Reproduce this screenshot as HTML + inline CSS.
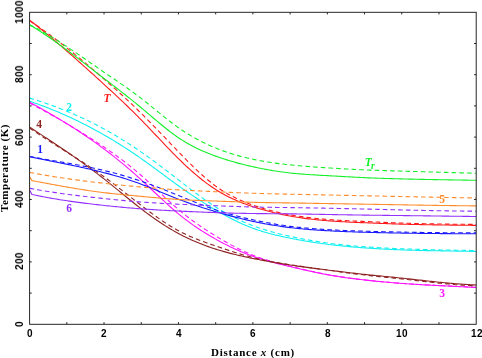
<!DOCTYPE html><html><head><meta charset="utf-8"><title>Temperature vs distance</title><style>
html,body{margin:0;padding:0;background:#fff}
body{width:482px;height:358px;position:relative;overflow:hidden;font-family:"Liberation Sans",sans-serif}
.xt,.xl,.yt span,.yl span,.lb{will-change:transform}
.xt{position:absolute;top:327.7px;width:40px;margin-left:-19.6px;text-align:center;letter-spacing:0.5px;font:bold 10px/12px "Liberation Sans",sans-serif;color:#000}
.yt{position:absolute;left:14px;width:12px;height:40px;margin-top:-20.5px;color:#000}
.yt span{position:absolute;left:50%;top:50%;transform:translate(-50%,-50%) rotate(-90deg);white-space:nowrap;letter-spacing:0.35px;font:bold 10px/12px "Liberation Sans",sans-serif}
.xl{position:absolute;left:153px;width:200px;top:345.5px;text-align:center;font:bold 11px/12px "Liberation Serif",serif;letter-spacing:0.75px;color:#000;white-space:nowrap}
.yl{position:absolute;left:0px;top:168px;width:12px;height:0}
.yl span{position:absolute;left:4px;top:0;transform:translate(-50%,-50%) rotate(-90deg);white-space:nowrap;font:bold 11px/12px "Liberation Serif",serif;letter-spacing:0.55px;color:#000}
.lb{position:absolute;font:bold 11.5px/12px "Liberation Serif",serif;transform:translate(-50%,-50%);white-space:nowrap}
.it{font:italic bold 11.5px/12px "Liberation Serif",serif}

</style></head><body>
<svg width="482" height="358" viewBox="0 0 482 358" style="position:absolute;left:0;top:0">
<defs><clipPath id="cp"><rect x="29.60" y="12.30" width="446.60" height="312.00"/></clipPath></defs>
<g clip-path="url(#cp)" fill="none" stroke-width="1.1" stroke-linejoin="round">
<path d="M29.60 20.10 L31.46 21.56 L33.32 23.03 L35.18 24.51 L37.04 26.00 L38.90 27.50 L40.77 29.01 L42.63 30.53 L44.49 32.06 L46.35 33.59 L48.21 35.14 L50.07 36.69 L51.93 38.25 L53.79 39.82 L55.65 41.39 L57.51 42.97 L59.37 44.56 L61.23 46.16 L63.09 47.76 L64.96 49.37 L66.82 50.99 L68.68 52.61 L70.54 54.24 L72.40 55.87 L74.26 57.51 L76.12 59.16 L77.98 60.81 L79.84 62.47 L81.70 64.13 L83.56 65.79 L85.42 67.46 L87.29 69.14 L89.15 70.82 L91.01 72.50 L92.87 74.19 L94.73 75.88 L96.59 77.57 L98.45 79.27 L100.31 80.96 L102.17 82.67 L104.03 84.37 L105.89 86.08 L107.75 87.79 L109.62 89.50 L111.48 91.22 L113.34 92.95 L115.20 94.68 L117.06 96.42 L118.92 98.16 L120.78 99.91 L122.64 101.67 L124.50 103.45 L126.36 105.23 L128.22 107.02 L130.09 108.82 L131.95 110.64 L133.81 112.47 L135.67 114.32 L137.53 116.18 L139.39 118.05 L141.25 119.94 L143.11 121.85 L144.97 123.77 L146.83 125.70 L148.69 127.65 L150.55 129.60 L152.41 131.56 L154.28 133.53 L156.14 135.50 L158.00 137.47 L159.86 139.44 L161.72 141.40 L163.58 143.36 L165.44 145.32 L167.30 147.26 L169.16 149.20 L171.02 151.12 L172.88 153.02 L174.75 154.91 L176.61 156.78 L178.47 158.63 L180.33 160.45 L182.19 162.25 L184.05 164.03 L185.91 165.78 L187.77 167.51 L189.63 169.20 L191.49 170.87 L193.35 172.51 L195.21 174.12 L197.07 175.69 L198.94 177.24 L200.80 178.75 L202.66 180.22 L204.52 181.66 L206.38 183.07 L208.24 184.43 L210.10 185.76 L211.96 187.06 L213.82 188.31 L215.68 189.52 L217.54 190.68 L219.40 191.81 L221.27 192.90 L223.13 193.95 L224.99 194.97 L226.85 195.95 L228.71 196.89 L230.57 197.80 L232.43 198.69 L234.29 199.54 L236.15 200.36 L238.01 201.15 L239.87 201.92 L241.73 202.67 L243.60 203.39 L245.46 204.08 L247.32 204.76 L249.18 205.42 L251.04 206.05 L252.90 206.68 L254.76 207.28 L256.62 207.87 L258.48 208.45 L260.34 209.00 L262.20 209.55 L264.06 210.08 L265.93 210.59 L267.79 211.09 L269.65 211.58 L271.51 212.05 L273.37 212.51 L275.23 212.95 L277.09 213.38 L278.95 213.80 L280.81 214.20 L282.67 214.59 L284.53 214.97 L286.40 215.34 L288.26 215.69 L290.12 216.04 L291.98 216.37 L293.84 216.69 L295.70 216.99 L297.56 217.29 L299.42 217.57 L301.28 217.85 L303.14 218.11 L305.00 218.37 L306.86 218.61 L308.72 218.85 L310.59 219.07 L312.45 219.29 L314.31 219.49 L316.17 219.69 L318.03 219.88 L319.89 220.07 L321.75 220.24 L323.61 220.41 L325.47 220.56 L327.33 220.72 L329.19 220.86 L331.06 221.00 L332.92 221.13 L334.78 221.26 L336.64 221.38 L338.50 221.49 L340.36 221.60 L342.22 221.71 L344.08 221.81 L345.94 221.91 L347.80 222.00 L349.66 222.09 L351.52 222.18 L353.39 222.26 L355.25 222.35 L357.11 222.43 L358.97 222.51 L360.83 222.59 L362.69 222.67 L364.55 222.74 L366.41 222.82 L368.27 222.90 L370.13 222.98 L371.99 223.05 L373.85 223.13 L375.72 223.21 L377.58 223.28 L379.44 223.35 L381.30 223.43 L383.16 223.50 L385.02 223.57 L386.88 223.64 L388.74 223.71 L390.60 223.78 L392.46 223.84 L394.32 223.91 L396.18 223.97 L398.05 224.03 L399.91 224.09 L401.77 224.15 L403.63 224.20 L405.49 224.26 L407.35 224.31 L409.21 224.35 L411.07 224.40 L412.93 224.45 L414.79 224.49 L416.65 224.53 L418.51 224.57 L420.37 224.61 L422.24 224.65 L424.10 224.68 L425.96 224.72 L427.82 224.75 L429.68 224.78 L431.54 224.81 L433.40 224.84 L435.26 224.87 L437.12 224.90 L438.98 224.93 L440.84 224.95 L442.71 224.98 L444.57 225.00 L446.43 225.03 L448.29 225.05 L450.15 225.08 L452.01 225.10 L453.87 225.12 L455.73 225.14 L457.59 225.17 L459.45 225.19 L461.31 225.21 L463.17 225.23 L465.04 225.26 L466.90 225.28 L468.76 225.30 L470.62 225.32 L472.48 225.35 L474.34 225.37 L476.20 225.40" stroke="#ff1a1a"/>
<path d="M29.60 20.72 L31.46 21.95 L33.32 23.20 L35.18 24.46 L37.04 25.74 L38.90 27.02 L40.77 28.33 L42.63 29.64 L44.49 30.97 L46.35 32.31 L48.21 33.67 L50.07 35.04 L51.93 36.42 L53.79 37.81 L55.65 39.21 L57.51 40.63 L59.37 42.05 L61.23 43.49 L63.09 44.94 L64.96 46.40 L66.82 47.87 L68.68 49.35 L70.54 50.84 L72.40 52.34 L74.26 53.85 L76.12 55.36 L77.98 56.89 L79.84 58.43 L81.70 59.97 L83.56 61.52 L85.42 63.08 L87.29 64.65 L89.15 66.23 L91.01 67.81 L92.87 69.40 L94.73 70.99 L96.59 72.60 L98.45 74.21 L100.31 75.82 L102.17 77.44 L104.03 79.07 L105.89 80.70 L107.75 82.34 L109.62 83.98 L111.48 85.63 L113.34 87.29 L115.20 88.96 L117.06 90.63 L118.92 92.31 L120.78 94.01 L122.64 95.71 L124.50 97.42 L126.36 99.15 L128.22 100.88 L130.09 102.63 L131.95 104.39 L133.81 106.16 L135.67 107.94 L137.53 109.74 L139.39 111.56 L141.25 113.39 L143.11 115.23 L144.97 117.09 L146.83 118.96 L148.69 120.85 L150.55 122.74 L152.41 124.65 L154.28 126.56 L156.14 128.48 L158.00 130.41 L159.86 132.35 L161.72 134.29 L163.58 136.23 L165.44 138.17 L167.30 140.12 L169.16 142.07 L171.02 144.01 L172.88 145.96 L174.75 147.90 L176.61 149.83 L178.47 151.76 L180.33 153.69 L182.19 155.60 L184.05 157.51 L185.91 159.40 L187.77 161.28 L189.63 163.14 L191.49 164.98 L193.35 166.79 L195.21 168.59 L197.07 170.36 L198.94 172.09 L200.80 173.80 L202.66 175.48 L204.52 177.12 L206.38 178.72 L208.24 180.28 L210.10 181.80 L211.96 183.27 L213.82 184.70 L215.68 186.08 L217.54 187.41 L219.40 188.70 L221.27 189.93 L223.13 191.12 L224.99 192.26 L226.85 193.36 L228.71 194.42 L230.57 195.43 L232.43 196.41 L234.29 197.36 L236.15 198.26 L238.01 199.14 L239.87 199.98 L241.73 200.79 L243.60 201.58 L245.46 202.33 L247.32 203.06 L249.18 203.77 L251.04 204.45 L252.90 205.12 L254.76 205.76 L256.62 206.38 L258.48 206.99 L260.34 207.58 L262.20 208.15 L264.06 208.70 L265.93 209.23 L267.79 209.75 L269.65 210.25 L271.51 210.74 L273.37 211.21 L275.23 211.66 L277.09 212.10 L278.95 212.53 L280.81 212.94 L282.67 213.33 L284.53 213.72 L286.40 214.09 L288.26 214.44 L290.12 214.79 L291.98 215.12 L293.84 215.44 L295.70 215.75 L297.56 216.05 L299.42 216.33 L301.28 216.61 L303.14 216.87 L305.00 217.13 L306.86 217.37 L308.72 217.61 L310.59 217.83 L312.45 218.05 L314.31 218.25 L316.17 218.45 L318.03 218.64 L319.89 218.82 L321.75 219.00 L323.61 219.16 L325.47 219.32 L327.33 219.47 L329.19 219.61 L331.06 219.75 L332.92 219.88 L334.78 220.00 L336.64 220.12 L338.50 220.23 L340.36 220.34 L342.22 220.45 L344.08 220.55 L345.94 220.64 L347.80 220.74 L349.66 220.83 L351.52 220.92 L353.39 221.00 L355.25 221.09 L357.11 221.17 L358.97 221.25 L360.83 221.33 L362.69 221.41 L364.55 221.50 L366.41 221.58 L368.27 221.66 L370.13 221.74 L371.99 221.83 L373.85 221.91 L375.72 221.99 L377.58 222.07 L379.44 222.15 L381.30 222.24 L383.16 222.32 L385.02 222.40 L386.88 222.48 L388.74 222.55 L390.60 222.63 L392.46 222.71 L394.32 222.78 L396.18 222.85 L398.05 222.92 L399.91 222.99 L401.77 223.06 L403.63 223.12 L405.49 223.18 L407.35 223.24 L409.21 223.30 L411.07 223.36 L412.93 223.41 L414.79 223.46 L416.65 223.51 L418.51 223.56 L420.37 223.61 L422.24 223.65 L424.10 223.70 L425.96 223.74 L427.82 223.78 L429.68 223.82 L431.54 223.86 L433.40 223.89 L435.26 223.93 L437.12 223.96 L438.98 223.99 L440.84 224.02 L442.71 224.05 L444.57 224.08 L446.43 224.11 L448.29 224.14 L450.15 224.16 L452.01 224.19 L453.87 224.21 L455.73 224.24 L457.59 224.26 L459.45 224.28 L461.31 224.30 L463.17 224.32 L465.04 224.34 L466.90 224.36 L468.76 224.38 L470.62 224.40 L472.48 224.42 L474.34 224.44 L476.20 224.46" stroke="#ff1a1a" stroke-dasharray="4.6 3.1"/>
<path d="M29.60 24.78 L31.46 25.91 L33.32 27.06 L35.18 28.22 L37.04 29.40 L38.90 30.60 L40.77 31.81 L42.63 33.03 L44.49 34.27 L46.35 35.52 L48.21 36.79 L50.07 38.06 L51.93 39.35 L53.79 40.66 L55.65 41.97 L57.51 43.29 L59.37 44.63 L61.23 45.97 L63.09 47.32 L64.96 48.68 L66.82 50.05 L68.68 51.43 L70.54 52.81 L72.40 54.21 L74.26 55.60 L76.12 57.01 L77.98 58.42 L79.84 59.83 L81.70 61.25 L83.56 62.67 L85.42 64.10 L87.29 65.53 L89.15 66.96 L91.01 68.39 L92.87 69.83 L94.73 71.26 L96.59 72.70 L98.45 74.14 L100.31 75.57 L102.17 77.01 L104.03 78.44 L105.89 79.88 L107.75 81.31 L109.62 82.74 L111.48 84.17 L113.34 85.61 L115.20 87.04 L117.06 88.48 L118.92 89.92 L120.78 91.37 L122.64 92.82 L124.50 94.27 L126.36 95.74 L128.22 97.21 L130.09 98.69 L131.95 100.17 L133.81 101.67 L135.67 103.18 L137.53 104.70 L139.39 106.23 L141.25 107.77 L143.11 109.33 L144.97 110.90 L146.83 112.47 L148.69 114.05 L150.55 115.63 L152.41 117.21 L154.28 118.79 L156.14 120.36 L158.00 121.93 L159.86 123.48 L161.72 125.01 L163.58 126.53 L165.44 128.03 L167.30 129.51 L169.16 130.96 L171.02 132.38 L172.88 133.77 L174.75 135.13 L176.61 136.44 L178.47 137.72 L180.33 138.96 L182.19 140.16 L184.05 141.31 L185.91 142.43 L187.77 143.51 L189.63 144.56 L191.49 145.57 L193.35 146.54 L195.21 147.49 L197.07 148.40 L198.94 149.28 L200.80 150.14 L202.66 150.97 L204.52 151.77 L206.38 152.55 L208.24 153.31 L210.10 154.04 L211.96 154.76 L213.82 155.45 L215.68 156.13 L217.54 156.79 L219.40 157.44 L221.27 158.07 L223.13 158.69 L224.99 159.29 L226.85 159.87 L228.71 160.44 L230.57 161.00 L232.43 161.55 L234.29 162.08 L236.15 162.60 L238.01 163.10 L239.87 163.60 L241.73 164.08 L243.60 164.55 L245.46 165.01 L247.32 165.46 L249.18 165.89 L251.04 166.32 L252.90 166.74 L254.76 167.15 L256.62 167.55 L258.48 167.94 L260.34 168.32 L262.20 168.69 L264.06 169.04 L265.93 169.39 L267.79 169.73 L269.65 170.06 L271.51 170.38 L273.37 170.69 L275.23 170.99 L277.09 171.28 L278.95 171.55 L280.81 171.82 L282.67 172.07 L284.53 172.32 L286.40 172.55 L288.26 172.77 L290.12 172.98 L291.98 173.18 L293.84 173.37 L295.70 173.54 L297.56 173.71 L299.42 173.87 L301.28 174.02 L303.14 174.17 L305.00 174.30 L306.86 174.43 L308.72 174.56 L310.59 174.68 L312.45 174.79 L314.31 174.91 L316.17 175.01 L318.03 175.12 L319.89 175.22 L321.75 175.33 L323.61 175.43 L325.47 175.53 L327.33 175.63 L329.19 175.74 L331.06 175.84 L332.92 175.95 L334.78 176.05 L336.64 176.16 L338.50 176.27 L340.36 176.37 L342.22 176.48 L344.08 176.58 L345.94 176.69 L347.80 176.79 L349.66 176.90 L351.52 177.00 L353.39 177.10 L355.25 177.20 L357.11 177.30 L358.97 177.39 L360.83 177.48 L362.69 177.57 L364.55 177.66 L366.41 177.74 L368.27 177.83 L370.13 177.90 L371.99 177.98 L373.85 178.05 L375.72 178.12 L377.58 178.19 L379.44 178.26 L381.30 178.32 L383.16 178.38 L385.02 178.44 L386.88 178.50 L388.74 178.56 L390.60 178.61 L392.46 178.66 L394.32 178.71 L396.18 178.76 L398.05 178.81 L399.91 178.86 L401.77 178.91 L403.63 178.95 L405.49 179.00 L407.35 179.04 L409.21 179.09 L411.07 179.13 L412.93 179.17 L414.79 179.21 L416.65 179.25 L418.51 179.29 L420.37 179.33 L422.24 179.37 L424.10 179.41 L425.96 179.44 L427.82 179.48 L429.68 179.52 L431.54 179.55 L433.40 179.59 L435.26 179.62 L437.12 179.65 L438.98 179.69 L440.84 179.72 L442.71 179.75 L444.57 179.79 L446.43 179.82 L448.29 179.85 L450.15 179.88 L452.01 179.91 L453.87 179.94 L455.73 179.98 L457.59 180.01 L459.45 180.04 L461.31 180.07 L463.17 180.10 L465.04 180.13 L466.90 180.16 L468.76 180.19 L470.62 180.22 L472.48 180.25 L474.34 180.28 L476.20 180.31" stroke="#14f028"/>
<path d="M29.60 24.78 L31.46 25.69 L33.32 26.63 L35.18 27.59 L37.04 28.57 L38.90 29.57 L40.77 30.59 L42.63 31.63 L44.49 32.69 L46.35 33.77 L48.21 34.86 L50.07 35.98 L51.93 37.10 L53.79 38.25 L55.65 39.41 L57.51 40.58 L59.37 41.76 L61.23 42.96 L63.09 44.17 L64.96 45.39 L66.82 46.62 L68.68 47.86 L70.54 49.11 L72.40 50.36 L74.26 51.63 L76.12 52.90 L77.98 54.17 L79.84 55.45 L81.70 56.73 L83.56 58.02 L85.42 59.31 L87.29 60.60 L89.15 61.90 L91.01 63.19 L92.87 64.49 L94.73 65.78 L96.59 67.07 L98.45 68.36 L100.31 69.65 L102.17 70.93 L104.03 72.20 L105.89 73.48 L107.75 74.74 L109.62 76.01 L111.48 77.27 L113.34 78.54 L115.20 79.80 L117.06 81.07 L118.92 82.34 L120.78 83.62 L122.64 84.90 L124.50 86.20 L126.36 87.50 L128.22 88.81 L130.09 90.14 L131.95 91.47 L133.81 92.83 L135.67 94.20 L137.53 95.58 L139.39 96.99 L141.25 98.41 L143.11 99.86 L144.97 101.32 L146.83 102.80 L148.69 104.30 L150.55 105.80 L152.41 107.31 L154.28 108.83 L156.14 110.35 L158.00 111.87 L159.86 113.38 L161.72 114.89 L163.58 116.39 L165.44 117.88 L167.30 119.36 L169.16 120.81 L171.02 122.25 L172.88 123.66 L174.75 125.05 L176.61 126.41 L178.47 127.74 L180.33 129.04 L182.19 130.30 L184.05 131.53 L185.91 132.73 L187.77 133.89 L189.63 135.03 L191.49 136.13 L193.35 137.21 L195.21 138.26 L197.07 139.27 L198.94 140.26 L200.80 141.23 L202.66 142.16 L204.52 143.07 L206.38 143.96 L208.24 144.82 L210.10 145.65 L211.96 146.47 L213.82 147.25 L215.68 148.02 L217.54 148.76 L219.40 149.49 L221.27 150.19 L223.13 150.87 L224.99 151.53 L226.85 152.17 L228.71 152.79 L230.57 153.39 L232.43 153.97 L234.29 154.54 L236.15 155.08 L238.01 155.61 L239.87 156.12 L241.73 156.62 L243.60 157.09 L245.46 157.56 L247.32 158.00 L249.18 158.43 L251.04 158.85 L252.90 159.25 L254.76 159.64 L256.62 160.01 L258.48 160.37 L260.34 160.72 L262.20 161.06 L264.06 161.38 L265.93 161.69 L267.79 161.99 L269.65 162.28 L271.51 162.56 L273.37 162.83 L275.23 163.09 L277.09 163.34 L278.95 163.58 L280.81 163.82 L282.67 164.04 L284.53 164.26 L286.40 164.47 L288.26 164.67 L290.12 164.87 L291.98 165.06 L293.84 165.24 L295.70 165.42 L297.56 165.59 L299.42 165.76 L301.28 165.93 L303.14 166.09 L305.00 166.24 L306.86 166.39 L308.72 166.54 L310.59 166.68 L312.45 166.82 L314.31 166.95 L316.17 167.09 L318.03 167.22 L319.89 167.34 L321.75 167.47 L323.61 167.59 L325.47 167.71 L327.33 167.83 L329.19 167.95 L331.06 168.07 L332.92 168.18 L334.78 168.30 L336.64 168.41 L338.50 168.52 L340.36 168.63 L342.22 168.74 L344.08 168.84 L345.94 168.94 L347.80 169.05 L349.66 169.15 L351.52 169.24 L353.39 169.34 L355.25 169.43 L357.11 169.52 L358.97 169.61 L360.83 169.70 L362.69 169.78 L364.55 169.86 L366.41 169.94 L368.27 170.01 L370.13 170.09 L371.99 170.16 L373.85 170.23 L375.72 170.30 L377.58 170.36 L379.44 170.42 L381.30 170.49 L383.16 170.55 L385.02 170.61 L386.88 170.67 L388.74 170.72 L390.60 170.78 L392.46 170.84 L394.32 170.89 L396.18 170.95 L398.05 171.00 L399.91 171.05 L401.77 171.11 L403.63 171.16 L405.49 171.22 L407.35 171.27 L409.21 171.33 L411.07 171.38 L412.93 171.43 L414.79 171.49 L416.65 171.54 L418.51 171.60 L420.37 171.65 L422.24 171.71 L424.10 171.76 L425.96 171.82 L427.82 171.87 L429.68 171.93 L431.54 171.98 L433.40 172.04 L435.26 172.09 L437.12 172.15 L438.98 172.20 L440.84 172.25 L442.71 172.31 L444.57 172.36 L446.43 172.42 L448.29 172.47 L450.15 172.53 L452.01 172.58 L453.87 172.64 L455.73 172.69 L457.59 172.75 L459.45 172.80 L461.31 172.86 L463.17 172.91 L465.04 172.97 L466.90 173.02 L468.76 173.07 L470.62 173.13 L472.48 173.18 L474.34 173.24 L476.20 173.29" stroke="#14f028" stroke-dasharray="4.6 3.1"/>
<path d="M29.60 101.22 L31.46 101.85 L33.32 102.50 L35.18 103.15 L37.04 103.82 L38.90 104.49 L40.77 105.18 L42.63 105.88 L44.49 106.58 L46.35 107.30 L48.21 108.03 L50.07 108.76 L51.93 109.51 L53.79 110.27 L55.65 111.04 L57.51 111.82 L59.37 112.61 L61.23 113.41 L63.09 114.23 L64.96 115.05 L66.82 115.88 L68.68 116.73 L70.54 117.59 L72.40 118.45 L74.26 119.33 L76.12 120.22 L77.98 121.12 L79.84 122.03 L81.70 122.95 L83.56 123.89 L85.42 124.83 L87.29 125.79 L89.15 126.76 L91.01 127.74 L92.87 128.73 L94.73 129.73 L96.59 130.74 L98.45 131.77 L100.31 132.81 L102.17 133.86 L104.03 134.92 L105.89 135.99 L107.75 137.07 L109.62 138.17 L111.48 139.27 L113.34 140.39 L115.20 141.52 L117.06 142.67 L118.92 143.82 L120.78 144.99 L122.64 146.17 L124.50 147.36 L126.36 148.56 L128.22 149.78 L130.09 151.01 L131.95 152.24 L133.81 153.50 L135.67 154.76 L137.53 156.04 L139.39 157.33 L141.25 158.63 L143.11 159.94 L144.97 161.27 L146.83 162.60 L148.69 163.95 L150.55 165.30 L152.41 166.66 L154.28 168.02 L156.14 169.39 L158.00 170.76 L159.86 172.14 L161.72 173.51 L163.58 174.89 L165.44 176.27 L167.30 177.64 L169.16 179.01 L171.02 180.38 L172.88 181.74 L174.75 183.09 L176.61 184.44 L178.47 185.77 L180.33 187.10 L182.19 188.42 L184.05 189.72 L185.91 191.02 L187.77 192.30 L189.63 193.58 L191.49 194.84 L193.35 196.09 L195.21 197.33 L197.07 198.56 L198.94 199.77 L200.80 200.97 L202.66 202.16 L204.52 203.34 L206.38 204.50 L208.24 205.65 L210.10 206.79 L211.96 207.91 L213.82 209.01 L215.68 210.11 L217.54 211.19 L219.40 212.25 L221.27 213.30 L223.13 214.33 L224.99 215.34 L226.85 216.34 L228.71 217.32 L230.57 218.28 L232.43 219.23 L234.29 220.15 L236.15 221.05 L238.01 221.94 L239.87 222.80 L241.73 223.64 L243.60 224.46 L245.46 225.25 L247.32 226.03 L249.18 226.78 L251.04 227.50 L252.90 228.20 L254.76 228.88 L256.62 229.53 L258.48 230.16 L260.34 230.77 L262.20 231.35 L264.06 231.92 L265.93 232.46 L267.79 232.99 L269.65 233.50 L271.51 233.99 L273.37 234.47 L275.23 234.93 L277.09 235.37 L278.95 235.81 L280.81 236.23 L282.67 236.64 L284.53 237.04 L286.40 237.43 L288.26 237.81 L290.12 238.19 L291.98 238.56 L293.84 238.92 L295.70 239.27 L297.56 239.62 L299.42 239.96 L301.28 240.30 L303.14 240.62 L305.00 240.95 L306.86 241.26 L308.72 241.57 L310.59 241.87 L312.45 242.16 L314.31 242.45 L316.17 242.73 L318.03 243.00 L319.89 243.27 L321.75 243.53 L323.61 243.79 L325.47 244.03 L327.33 244.27 L329.19 244.50 L331.06 244.73 L332.92 244.95 L334.78 245.16 L336.64 245.37 L338.50 245.57 L340.36 245.77 L342.22 245.96 L344.08 246.14 L345.94 246.32 L347.80 246.50 L349.66 246.66 L351.52 246.83 L353.39 246.99 L355.25 247.14 L357.11 247.29 L358.97 247.44 L360.83 247.58 L362.69 247.72 L364.55 247.86 L366.41 247.99 L368.27 248.12 L370.13 248.25 L371.99 248.37 L373.85 248.49 L375.72 248.60 L377.58 248.72 L379.44 248.83 L381.30 248.93 L383.16 249.03 L385.02 249.13 L386.88 249.23 L388.74 249.32 L390.60 249.41 L392.46 249.50 L394.32 249.58 L396.18 249.66 L398.05 249.74 L399.91 249.82 L401.77 249.89 L403.63 249.96 L405.49 250.02 L407.35 250.08 L409.21 250.14 L411.07 250.20 L412.93 250.26 L414.79 250.31 L416.65 250.36 L418.51 250.41 L420.37 250.45 L422.24 250.50 L424.10 250.54 L425.96 250.58 L427.82 250.62 L429.68 250.65 L431.54 250.69 L433.40 250.73 L435.26 250.76 L437.12 250.79 L438.98 250.82 L440.84 250.86 L442.71 250.89 L444.57 250.92 L446.43 250.94 L448.29 250.97 L450.15 251.00 L452.01 251.03 L453.87 251.06 L455.73 251.09 L457.59 251.12 L459.45 251.15 L461.31 251.18 L463.17 251.21 L465.04 251.24 L466.90 251.27 L468.76 251.30 L470.62 251.34 L472.48 251.37 L474.34 251.41 L476.20 251.45" stroke="#10f0f0"/>
<path d="M29.60 98.10 L31.46 98.65 L33.32 99.22 L35.18 99.79 L37.04 100.38 L38.90 100.98 L40.77 101.58 L42.63 102.20 L44.49 102.83 L46.35 103.46 L48.21 104.11 L50.07 104.77 L51.93 105.44 L53.79 106.12 L55.65 106.81 L57.51 107.52 L59.37 108.23 L61.23 108.96 L63.09 109.69 L64.96 110.44 L66.82 111.20 L68.68 111.98 L70.54 112.76 L72.40 113.56 L74.26 114.36 L76.12 115.18 L77.98 116.02 L79.84 116.86 L81.70 117.72 L83.56 118.59 L85.42 119.47 L87.29 120.36 L89.15 121.27 L91.01 122.19 L92.87 123.12 L94.73 124.06 L96.59 125.02 L98.45 125.99 L100.31 126.98 L102.17 127.98 L104.03 128.99 L105.89 130.01 L107.75 131.05 L109.62 132.10 L111.48 133.17 L113.34 134.25 L115.20 135.34 L117.06 136.45 L118.92 137.56 L120.78 138.70 L122.64 139.85 L124.50 141.01 L126.36 142.18 L128.22 143.37 L130.09 144.57 L131.95 145.79 L133.81 147.02 L135.67 148.26 L137.53 149.52 L139.39 150.79 L141.25 152.08 L143.11 153.38 L144.97 154.69 L146.83 156.01 L148.69 157.35 L150.55 158.70 L152.41 160.06 L154.28 161.43 L156.14 162.81 L158.00 164.20 L159.86 165.59 L161.72 166.99 L163.58 168.40 L165.44 169.82 L167.30 171.24 L169.16 172.67 L171.02 174.10 L172.88 175.53 L174.75 176.97 L176.61 178.40 L178.47 179.84 L180.33 181.28 L182.19 182.72 L184.05 184.16 L185.91 185.59 L187.77 187.02 L189.63 188.45 L191.49 189.86 L193.35 191.27 L195.21 192.67 L197.07 194.05 L198.94 195.43 L200.80 196.79 L202.66 198.13 L204.52 199.46 L206.38 200.76 L208.24 202.05 L210.10 203.32 L211.96 204.57 L213.82 205.79 L215.68 206.99 L217.54 208.16 L219.40 209.31 L221.27 210.42 L223.13 211.52 L224.99 212.59 L226.85 213.63 L228.71 214.65 L230.57 215.64 L232.43 216.61 L234.29 217.56 L236.15 218.48 L238.01 219.37 L239.87 220.25 L241.73 221.10 L243.60 221.92 L245.46 222.72 L247.32 223.50 L249.18 224.26 L251.04 225.00 L252.90 225.71 L254.76 226.40 L256.62 227.07 L258.48 227.72 L260.34 228.34 L262.20 228.95 L264.06 229.54 L265.93 230.12 L267.79 230.67 L269.65 231.21 L271.51 231.74 L273.37 232.25 L275.23 232.75 L277.09 233.23 L278.95 233.70 L280.81 234.16 L282.67 234.61 L284.53 235.05 L286.40 235.48 L288.26 235.90 L290.12 236.32 L291.98 236.72 L293.84 237.12 L295.70 237.51 L297.56 237.90 L299.42 238.28 L301.28 238.65 L303.14 239.01 L305.00 239.37 L306.86 239.72 L308.72 240.06 L310.59 240.39 L312.45 240.71 L314.31 241.03 L316.17 241.34 L318.03 241.64 L319.89 241.93 L321.75 242.22 L323.61 242.50 L325.47 242.76 L327.33 243.02 L329.19 243.28 L331.06 243.52 L332.92 243.75 L334.78 243.98 L336.64 244.20 L338.50 244.42 L340.36 244.62 L342.22 244.82 L344.08 245.01 L345.94 245.20 L347.80 245.38 L349.66 245.56 L351.52 245.72 L353.39 245.89 L355.25 246.05 L357.11 246.20 L358.97 246.35 L360.83 246.49 L362.69 246.63 L364.55 246.77 L366.41 246.90 L368.27 247.03 L370.13 247.15 L371.99 247.27 L373.85 247.39 L375.72 247.51 L377.58 247.62 L379.44 247.73 L381.30 247.83 L383.16 247.93 L385.02 248.03 L386.88 248.13 L388.74 248.22 L390.60 248.31 L392.46 248.40 L394.32 248.48 L396.18 248.56 L398.05 248.64 L399.91 248.72 L401.77 248.80 L403.63 248.87 L405.49 248.94 L407.35 249.01 L409.21 249.07 L411.07 249.14 L412.93 249.20 L414.79 249.26 L416.65 249.32 L418.51 249.37 L420.37 249.43 L422.24 249.48 L424.10 249.53 L425.96 249.58 L427.82 249.63 L429.68 249.68 L431.54 249.72 L433.40 249.76 L435.26 249.81 L437.12 249.85 L438.98 249.89 L440.84 249.93 L442.71 249.96 L444.57 250.00 L446.43 250.04 L448.29 250.07 L450.15 250.10 L452.01 250.14 L453.87 250.17 L455.73 250.20 L457.59 250.23 L459.45 250.26 L461.31 250.29 L463.17 250.32 L465.04 250.35 L466.90 250.38 L468.76 250.40 L470.62 250.43 L472.48 250.46 L474.34 250.49 L476.20 250.51" stroke="#10f0f0" stroke-dasharray="4.6 3.1"/>
<path d="M29.60 102.16 L31.46 103.18 L33.32 104.20 L35.18 105.23 L37.04 106.26 L38.90 107.30 L40.77 108.35 L42.63 109.40 L44.49 110.45 L46.35 111.52 L48.21 112.58 L50.07 113.66 L51.93 114.74 L53.79 115.83 L55.65 116.93 L57.51 118.03 L59.37 119.15 L61.23 120.27 L63.09 121.40 L64.96 122.54 L66.82 123.68 L68.68 124.84 L70.54 126.01 L72.40 127.18 L74.26 128.37 L76.12 129.57 L77.98 130.78 L79.84 131.99 L81.70 133.22 L83.56 134.47 L85.42 135.72 L87.29 136.98 L89.15 138.26 L91.01 139.55 L92.87 140.85 L94.73 142.17 L96.59 143.50 L98.45 144.84 L100.31 146.20 L102.17 147.57 L104.03 148.96 L105.89 150.36 L107.75 151.77 L109.62 153.20 L111.48 154.64 L113.34 156.10 L115.20 157.58 L117.06 159.07 L118.92 160.57 L120.78 162.09 L122.64 163.63 L124.50 165.18 L126.36 166.75 L128.22 168.33 L130.09 169.93 L131.95 171.54 L133.81 173.17 L135.67 174.81 L137.53 176.47 L139.39 178.15 L141.25 179.84 L143.11 181.55 L144.97 183.28 L146.83 185.01 L148.69 186.75 L150.55 188.50 L152.41 190.25 L154.28 192.01 L156.14 193.76 L158.00 195.51 L159.86 197.26 L161.72 198.99 L163.58 200.72 L165.44 202.43 L167.30 204.13 L169.16 205.81 L171.02 207.47 L172.88 209.10 L174.75 210.72 L176.61 212.30 L178.47 213.85 L180.33 215.37 L182.19 216.86 L184.05 218.32 L185.91 219.75 L187.77 221.15 L189.63 222.52 L191.49 223.86 L193.35 225.17 L195.21 226.46 L197.07 227.73 L198.94 228.96 L200.80 230.18 L202.66 231.37 L204.52 232.54 L206.38 233.69 L208.24 234.81 L210.10 235.92 L211.96 237.00 L213.82 238.07 L215.68 239.12 L217.54 240.16 L219.40 241.17 L221.27 242.17 L223.13 243.15 L224.99 244.12 L226.85 245.06 L228.71 245.99 L230.57 246.90 L232.43 247.79 L234.29 248.66 L236.15 249.51 L238.01 250.35 L239.87 251.16 L241.73 251.95 L243.60 252.73 L245.46 253.48 L247.32 254.21 L249.18 254.92 L251.04 255.61 L252.90 256.28 L254.76 256.93 L256.62 257.56 L258.48 258.17 L260.34 258.76 L262.20 259.33 L264.06 259.89 L265.93 260.43 L267.79 260.96 L269.65 261.48 L271.51 261.98 L273.37 262.47 L275.23 262.95 L277.09 263.43 L278.95 263.89 L280.81 264.35 L282.67 264.80 L284.53 265.25 L286.40 265.70 L288.26 266.14 L290.12 266.58 L291.98 267.02 L293.84 267.46 L295.70 267.90 L297.56 268.33 L299.42 268.77 L301.28 269.20 L303.14 269.62 L305.00 270.05 L306.86 270.47 L308.72 270.88 L310.59 271.30 L312.45 271.70 L314.31 272.10 L316.17 272.49 L318.03 272.88 L319.89 273.26 L321.75 273.63 L323.61 273.99 L325.47 274.35 L327.33 274.69 L329.19 275.03 L331.06 275.36 L332.92 275.67 L334.78 275.98 L336.64 276.28 L338.50 276.58 L340.36 276.86 L342.22 277.14 L344.08 277.41 L345.94 277.67 L347.80 277.93 L349.66 278.18 L351.52 278.43 L353.39 278.67 L355.25 278.90 L357.11 279.13 L358.97 279.35 L360.83 279.57 L362.69 279.79 L364.55 280.00 L366.41 280.20 L368.27 280.41 L370.13 280.60 L371.99 280.80 L373.85 280.99 L375.72 281.18 L377.58 281.36 L379.44 281.54 L381.30 281.72 L383.16 281.89 L385.02 282.06 L386.88 282.23 L388.74 282.39 L390.60 282.55 L392.46 282.71 L394.32 282.86 L396.18 283.01 L398.05 283.15 L399.91 283.29 L401.77 283.43 L403.63 283.56 L405.49 283.69 L407.35 283.82 L409.21 283.94 L411.07 284.06 L412.93 284.18 L414.79 284.30 L416.65 284.41 L418.51 284.52 L420.37 284.63 L422.24 284.73 L424.10 284.84 L425.96 284.94 L427.82 285.04 L429.68 285.14 L431.54 285.24 L433.40 285.33 L435.26 285.43 L437.12 285.52 L438.98 285.61 L440.84 285.70 L442.71 285.80 L444.57 285.89 L446.43 285.98 L448.29 286.07 L450.15 286.16 L452.01 286.25 L453.87 286.34 L455.73 286.43 L457.59 286.52 L459.45 286.61 L461.31 286.70 L463.17 286.80 L465.04 286.89 L466.90 286.98 L468.76 287.08 L470.62 287.18 L472.48 287.28 L474.34 287.38 L476.20 287.48" stroke="#ff14ff"/>
<path d="M29.60 103.09 L31.46 104.08 L33.32 105.06 L35.18 106.05 L37.04 107.05 L38.90 108.05 L40.77 109.05 L42.63 110.06 L44.49 111.08 L46.35 112.10 L48.21 113.12 L50.07 114.15 L51.93 115.19 L53.79 116.23 L55.65 117.27 L57.51 118.33 L59.37 119.38 L61.23 120.45 L63.09 121.52 L64.96 122.60 L66.82 123.68 L68.68 124.78 L70.54 125.88 L72.40 126.98 L74.26 128.10 L76.12 129.22 L77.98 130.35 L79.84 131.49 L81.70 132.63 L83.56 133.79 L85.42 134.95 L87.29 136.12 L89.15 137.30 L91.01 138.49 L92.87 139.69 L94.73 140.90 L96.59 142.11 L98.45 143.34 L100.31 144.58 L102.17 145.83 L104.03 147.08 L105.89 148.35 L107.75 149.63 L109.62 150.92 L111.48 152.23 L113.34 153.54 L115.20 154.88 L117.06 156.22 L118.92 157.59 L120.78 158.97 L122.64 160.36 L124.50 161.78 L126.36 163.21 L128.22 164.67 L130.09 166.14 L131.95 167.64 L133.81 169.16 L135.67 170.70 L137.53 172.27 L139.39 173.86 L141.25 175.48 L143.11 177.12 L144.97 178.78 L146.83 180.47 L148.69 182.17 L150.55 183.89 L152.41 185.62 L154.28 187.36 L156.14 189.11 L158.00 190.86 L159.86 192.61 L161.72 194.35 L163.58 196.10 L165.44 197.83 L167.30 199.55 L169.16 201.26 L171.02 202.95 L172.88 204.62 L174.75 206.27 L176.61 207.89 L178.47 209.48 L180.33 211.05 L182.19 212.58 L184.05 214.08 L185.91 215.56 L187.77 217.00 L189.63 218.42 L191.49 219.82 L193.35 221.19 L195.21 222.53 L197.07 223.85 L198.94 225.15 L200.80 226.43 L202.66 227.69 L204.52 228.93 L206.38 230.15 L208.24 231.35 L210.10 232.54 L211.96 233.71 L213.82 234.86 L215.68 236.00 L217.54 237.13 L219.40 238.25 L221.27 239.35 L223.13 240.43 L224.99 241.50 L226.85 242.56 L228.71 243.59 L230.57 244.61 L232.43 245.61 L234.29 246.59 L236.15 247.55 L238.01 248.49 L239.87 249.41 L241.73 250.31 L243.60 251.18 L245.46 252.04 L247.32 252.86 L249.18 253.66 L251.04 254.44 L252.90 255.19 L254.76 255.92 L256.62 256.61 L258.48 257.29 L260.34 257.94 L262.20 258.57 L264.06 259.18 L265.93 259.77 L267.79 260.34 L269.65 260.90 L271.51 261.44 L273.37 261.96 L275.23 262.48 L277.09 262.98 L278.95 263.47 L280.81 263.95 L282.67 264.42 L284.53 264.89 L286.40 265.35 L288.26 265.81 L290.12 266.27 L291.98 266.72 L293.84 267.17 L295.70 267.62 L297.56 268.07 L299.42 268.52 L301.28 268.96 L303.14 269.39 L305.00 269.83 L306.86 270.25 L308.72 270.68 L310.59 271.09 L312.45 271.51 L314.31 271.91 L316.17 272.31 L318.03 272.70 L319.89 273.08 L321.75 273.46 L323.61 273.83 L325.47 274.19 L327.33 274.54 L329.19 274.88 L331.06 275.21 L332.92 275.53 L334.78 275.84 L336.64 276.15 L338.50 276.44 L340.36 276.73 L342.22 277.01 L344.08 277.29 L345.94 277.55 L347.80 277.81 L349.66 278.07 L351.52 278.32 L353.39 278.56 L355.25 278.79 L357.11 279.03 L358.97 279.25 L360.83 279.47 L362.69 279.69 L364.55 279.90 L366.41 280.11 L368.27 280.32 L370.13 280.52 L371.99 280.72 L373.85 280.91 L375.72 281.10 L377.58 281.29 L379.44 281.47 L381.30 281.65 L383.16 281.82 L385.02 281.99 L386.88 282.16 L388.74 282.32 L390.60 282.48 L392.46 282.64 L394.32 282.79 L396.18 282.94 L398.05 283.09 L399.91 283.23 L401.77 283.37 L403.63 283.50 L405.49 283.63 L407.35 283.76 L409.21 283.88 L411.07 284.00 L412.93 284.12 L414.79 284.24 L416.65 284.35 L418.51 284.46 L420.37 284.57 L422.24 284.67 L424.10 284.78 L425.96 284.88 L427.82 284.98 L429.68 285.08 L431.54 285.17 L433.40 285.27 L435.26 285.36 L437.12 285.46 L438.98 285.55 L440.84 285.64 L442.71 285.73 L444.57 285.82 L446.43 285.91 L448.29 286.00 L450.15 286.09 L452.01 286.18 L453.87 286.27 L455.73 286.36 L457.59 286.45 L459.45 286.54 L461.31 286.64 L463.17 286.73 L465.04 286.82 L466.90 286.92 L468.76 287.02 L470.62 287.12 L472.48 287.22 L474.34 287.32 L476.20 287.42" stroke="#ff14ff" stroke-dasharray="4.6 3.1"/>
<path d="M29.60 127.12 L31.46 128.33 L33.32 129.55 L35.18 130.76 L37.04 131.98 L38.90 133.20 L40.77 134.41 L42.63 135.63 L44.49 136.85 L46.35 138.08 L48.21 139.30 L50.07 140.53 L51.93 141.76 L53.79 142.99 L55.65 144.23 L57.51 145.48 L59.37 146.72 L61.23 147.98 L63.09 149.23 L64.96 150.50 L66.82 151.76 L68.68 153.04 L70.54 154.32 L72.40 155.61 L74.26 156.90 L76.12 158.21 L77.98 159.52 L79.84 160.84 L81.70 162.17 L83.56 163.50 L85.42 164.85 L87.29 166.21 L89.15 167.57 L91.01 168.95 L92.87 170.34 L94.73 171.74 L96.59 173.15 L98.45 174.57 L100.31 176.00 L102.17 177.45 L104.03 178.91 L105.89 180.38 L107.75 181.86 L109.62 183.36 L111.48 184.86 L113.34 186.37 L115.20 187.88 L117.06 189.40 L118.92 190.93 L120.78 192.45 L122.64 193.97 L124.50 195.49 L126.36 197.01 L128.22 198.53 L130.09 200.03 L131.95 201.53 L133.81 203.02 L135.67 204.50 L137.53 205.97 L139.39 207.42 L141.25 208.86 L143.11 210.28 L144.97 211.69 L146.83 213.07 L148.69 214.44 L150.55 215.79 L152.41 217.12 L154.28 218.43 L156.14 219.73 L158.00 221.00 L159.86 222.25 L161.72 223.48 L163.58 224.69 L165.44 225.87 L167.30 227.03 L169.16 228.17 L171.02 229.29 L172.88 230.38 L174.75 231.45 L176.61 232.49 L178.47 233.51 L180.33 234.50 L182.19 235.47 L184.05 236.41 L185.91 237.32 L187.77 238.22 L189.63 239.09 L191.49 239.93 L193.35 240.76 L195.21 241.56 L197.07 242.34 L198.94 243.10 L200.80 243.85 L202.66 244.57 L204.52 245.27 L206.38 245.95 L208.24 246.62 L210.10 247.27 L211.96 247.90 L213.82 248.51 L215.68 249.11 L217.54 249.69 L219.40 250.26 L221.27 250.81 L223.13 251.35 L224.99 251.87 L226.85 252.39 L228.71 252.89 L230.57 253.37 L232.43 253.85 L234.29 254.32 L236.15 254.77 L238.01 255.21 L239.87 255.65 L241.73 256.08 L243.60 256.49 L245.46 256.90 L247.32 257.30 L249.18 257.70 L251.04 258.09 L252.90 258.47 L254.76 258.84 L256.62 259.22 L258.48 259.58 L260.34 259.94 L262.20 260.30 L264.06 260.64 L265.93 260.99 L267.79 261.33 L269.65 261.66 L271.51 261.99 L273.37 262.32 L275.23 262.63 L277.09 262.95 L278.95 263.26 L280.81 263.56 L282.67 263.86 L284.53 264.16 L286.40 264.45 L288.26 264.74 L290.12 265.02 L291.98 265.30 L293.84 265.57 L295.70 265.84 L297.56 266.11 L299.42 266.37 L301.28 266.63 L303.14 266.89 L305.00 267.14 L306.86 267.39 L308.72 267.64 L310.59 267.88 L312.45 268.13 L314.31 268.37 L316.17 268.61 L318.03 268.84 L319.89 269.08 L321.75 269.31 L323.61 269.55 L325.47 269.78 L327.33 270.01 L329.19 270.24 L331.06 270.47 L332.92 270.70 L334.78 270.93 L336.64 271.16 L338.50 271.39 L340.36 271.61 L342.22 271.84 L344.08 272.06 L345.94 272.28 L347.80 272.50 L349.66 272.72 L351.52 272.93 L353.39 273.15 L355.25 273.36 L357.11 273.57 L358.97 273.78 L360.83 273.98 L362.69 274.18 L364.55 274.38 L366.41 274.58 L368.27 274.77 L370.13 274.96 L371.99 275.15 L373.85 275.34 L375.72 275.52 L377.58 275.71 L379.44 275.89 L381.30 276.07 L383.16 276.26 L385.02 276.44 L386.88 276.62 L388.74 276.81 L390.60 276.99 L392.46 277.17 L394.32 277.36 L396.18 277.55 L398.05 277.74 L399.91 277.93 L401.77 278.12 L403.63 278.32 L405.49 278.52 L407.35 278.72 L409.21 278.92 L411.07 279.13 L412.93 279.33 L414.79 279.54 L416.65 279.75 L418.51 279.96 L420.37 280.16 L422.24 280.37 L424.10 280.58 L425.96 280.78 L427.82 280.99 L429.68 281.19 L431.54 281.39 L433.40 281.59 L435.26 281.79 L437.12 281.99 L438.98 282.18 L440.84 282.37 L442.71 282.56 L444.57 282.74 L446.43 282.92 L448.29 283.09 L450.15 283.26 L452.01 283.42 L453.87 283.58 L455.73 283.74 L457.59 283.88 L459.45 284.03 L461.31 284.16 L463.17 284.29 L465.04 284.41 L466.90 284.53 L468.76 284.64 L470.62 284.74 L472.48 284.83 L474.34 284.91 L476.20 284.99" stroke="#8e2323"/>
<path d="M29.60 128.05 L31.46 129.33 L33.32 130.60 L35.18 131.86 L37.04 133.10 L38.90 134.34 L40.77 135.56 L42.63 136.77 L44.49 137.98 L46.35 139.18 L48.21 140.37 L50.07 141.56 L51.93 142.74 L53.79 143.91 L55.65 145.08 L57.51 146.25 L59.37 147.42 L61.23 148.58 L63.09 149.75 L64.96 150.91 L66.82 152.08 L68.68 153.24 L70.54 154.41 L72.40 155.58 L74.26 156.76 L76.12 157.94 L77.98 159.13 L79.84 160.32 L81.70 161.52 L83.56 162.72 L85.42 163.94 L87.29 165.16 L89.15 166.40 L91.01 167.64 L92.87 168.90 L94.73 170.17 L96.59 171.45 L98.45 172.75 L100.31 174.06 L102.17 175.38 L104.03 176.72 L105.89 178.08 L107.75 179.46 L109.62 180.85 L111.48 182.25 L113.34 183.66 L115.20 185.08 L117.06 186.52 L118.92 187.96 L120.78 189.41 L122.64 190.86 L124.50 192.32 L126.36 193.78 L128.22 195.24 L130.09 196.71 L131.95 198.17 L133.81 199.63 L135.67 201.09 L137.53 202.54 L139.39 203.99 L141.25 205.43 L143.11 206.86 L144.97 208.28 L146.83 209.69 L148.69 211.09 L150.55 212.48 L152.41 213.84 L154.28 215.20 L156.14 216.53 L158.00 217.85 L159.86 219.15 L161.72 220.42 L163.58 221.67 L165.44 222.90 L167.30 224.10 L169.16 225.28 L171.02 226.42 L172.88 227.54 L174.75 228.63 L176.61 229.68 L178.47 230.70 L180.33 231.69 L182.19 232.64 L184.05 233.56 L185.91 234.45 L187.77 235.31 L189.63 236.15 L191.49 236.96 L193.35 237.74 L195.21 238.51 L197.07 239.26 L198.94 239.98 L200.80 240.69 L202.66 241.39 L204.52 242.07 L206.38 242.75 L208.24 243.41 L210.10 244.06 L211.96 244.71 L213.82 245.35 L215.68 245.99 L217.54 246.62 L219.40 247.26 L221.27 247.89 L223.13 248.52 L224.99 249.14 L226.85 249.76 L228.71 250.38 L230.57 250.98 L232.43 251.58 L234.29 252.18 L236.15 252.76 L238.01 253.34 L239.87 253.90 L241.73 254.46 L243.60 255.00 L245.46 255.53 L247.32 256.05 L249.18 256.56 L251.04 257.05 L252.90 257.53 L254.76 258.00 L256.62 258.45 L258.48 258.88 L260.34 259.30 L262.20 259.71 L264.06 260.11 L265.93 260.49 L267.79 260.87 L269.65 261.23 L271.51 261.59 L273.37 261.93 L275.23 262.27 L277.09 262.59 L278.95 262.91 L280.81 263.23 L282.67 263.53 L284.53 263.83 L286.40 264.13 L288.26 264.42 L290.12 264.71 L291.98 264.99 L293.84 265.27 L295.70 265.55 L297.56 265.82 L299.42 266.09 L301.28 266.36 L303.14 266.63 L305.00 266.90 L306.86 267.16 L308.72 267.42 L310.59 267.68 L312.45 267.94 L314.31 268.20 L316.17 268.46 L318.03 268.72 L319.89 268.98 L321.75 269.23 L323.61 269.49 L325.47 269.75 L327.33 270.01 L329.19 270.27 L331.06 270.53 L332.92 270.80 L334.78 271.06 L336.64 271.32 L338.50 271.58 L340.36 271.84 L342.22 272.10 L344.08 272.36 L345.94 272.61 L347.80 272.87 L349.66 273.12 L351.52 273.37 L353.39 273.61 L355.25 273.85 L357.11 274.09 L358.97 274.33 L360.83 274.56 L362.69 274.78 L364.55 275.00 L366.41 275.22 L368.27 275.43 L370.13 275.64 L371.99 275.84 L373.85 276.04 L375.72 276.24 L377.58 276.43 L379.44 276.62 L381.30 276.81 L383.16 277.00 L385.02 277.19 L386.88 277.37 L388.74 277.56 L390.60 277.75 L392.46 277.93 L394.32 278.12 L396.18 278.32 L398.05 278.51 L399.91 278.71 L401.77 278.90 L403.63 279.11 L405.49 279.31 L407.35 279.52 L409.21 279.73 L411.07 279.94 L412.93 280.16 L414.79 280.37 L416.65 280.59 L418.51 280.80 L420.37 281.02 L422.24 281.24 L424.10 281.45 L425.96 281.67 L427.82 281.88 L429.68 282.09 L431.54 282.30 L433.40 282.51 L435.26 282.72 L437.12 282.92 L438.98 283.12 L440.84 283.31 L442.71 283.50 L444.57 283.69 L446.43 283.87 L448.29 284.04 L450.15 284.21 L452.01 284.37 L453.87 284.53 L455.73 284.68 L457.59 284.82 L459.45 284.96 L461.31 285.08 L463.17 285.20 L465.04 285.31 L466.90 285.41 L468.76 285.50 L470.62 285.59 L472.48 285.66 L474.34 285.72 L476.20 285.77" stroke="#8e2323" stroke-dasharray="4.6 3.1"/>
<path d="M29.60 156.76 L31.46 157.14 L33.32 157.52 L35.18 157.90 L37.04 158.28 L38.90 158.66 L40.77 159.03 L42.63 159.40 L44.49 159.78 L46.35 160.15 L48.21 160.52 L50.07 160.89 L51.93 161.26 L53.79 161.63 L55.65 162.00 L57.51 162.37 L59.37 162.74 L61.23 163.11 L63.09 163.49 L64.96 163.87 L66.82 164.24 L68.68 164.63 L70.54 165.01 L72.40 165.40 L74.26 165.79 L76.12 166.18 L77.98 166.58 L79.84 166.98 L81.70 167.38 L83.56 167.79 L85.42 168.21 L87.29 168.63 L89.15 169.05 L91.01 169.48 L92.87 169.92 L94.73 170.36 L96.59 170.81 L98.45 171.26 L100.31 171.72 L102.17 172.19 L104.03 172.67 L105.89 173.15 L107.75 173.64 L109.62 174.14 L111.48 174.65 L113.34 175.17 L115.20 175.70 L117.06 176.23 L118.92 176.78 L120.78 177.34 L122.64 177.90 L124.50 178.48 L126.36 179.07 L128.22 179.67 L130.09 180.28 L131.95 180.90 L133.81 181.54 L135.67 182.19 L137.53 182.85 L139.39 183.52 L141.25 184.21 L143.11 184.91 L144.97 185.63 L146.83 186.35 L148.69 187.09 L150.55 187.83 L152.41 188.58 L154.28 189.34 L156.14 190.11 L158.00 190.87 L159.86 191.64 L161.72 192.41 L163.58 193.18 L165.44 193.95 L167.30 194.72 L169.16 195.48 L171.02 196.24 L172.88 196.99 L174.75 197.73 L176.61 198.46 L178.47 199.19 L180.33 199.90 L182.19 200.60 L184.05 201.29 L185.91 201.97 L187.77 202.64 L189.63 203.30 L191.49 203.95 L193.35 204.59 L195.21 205.22 L197.07 205.85 L198.94 206.46 L200.80 207.07 L202.66 207.67 L204.52 208.26 L206.38 208.84 L208.24 209.42 L210.10 209.99 L211.96 210.56 L213.82 211.11 L215.68 211.67 L217.54 212.22 L219.40 212.76 L221.27 213.29 L223.13 213.82 L224.99 214.35 L226.85 214.87 L228.71 215.38 L230.57 215.88 L232.43 216.38 L234.29 216.87 L236.15 217.36 L238.01 217.83 L239.87 218.30 L241.73 218.76 L243.60 219.21 L245.46 219.65 L247.32 220.09 L249.18 220.52 L251.04 220.93 L252.90 221.34 L254.76 221.74 L256.62 222.13 L258.48 222.51 L260.34 222.88 L262.20 223.24 L264.06 223.59 L265.93 223.93 L267.79 224.27 L269.65 224.59 L271.51 224.91 L273.37 225.22 L275.23 225.51 L277.09 225.80 L278.95 226.08 L280.81 226.35 L282.67 226.62 L284.53 226.87 L286.40 227.12 L288.26 227.35 L290.12 227.58 L291.98 227.80 L293.84 228.01 L295.70 228.21 L297.56 228.41 L299.42 228.60 L301.28 228.78 L303.14 228.95 L305.00 229.12 L306.86 229.28 L308.72 229.44 L310.59 229.58 L312.45 229.73 L314.31 229.87 L316.17 230.00 L318.03 230.13 L319.89 230.25 L321.75 230.37 L323.61 230.48 L325.47 230.59 L327.33 230.70 L329.19 230.80 L331.06 230.90 L332.92 231.00 L334.78 231.10 L336.64 231.19 L338.50 231.28 L340.36 231.36 L342.22 231.45 L344.08 231.53 L345.94 231.60 L347.80 231.68 L349.66 231.75 L351.52 231.82 L353.39 231.89 L355.25 231.96 L357.11 232.02 L358.97 232.08 L360.83 232.14 L362.69 232.20 L364.55 232.26 L366.41 232.32 L368.27 232.37 L370.13 232.42 L371.99 232.47 L373.85 232.52 L375.72 232.57 L377.58 232.61 L379.44 232.66 L381.30 232.70 L383.16 232.74 L385.02 232.78 L386.88 232.82 L388.74 232.86 L390.60 232.90 L392.46 232.94 L394.32 232.97 L396.18 233.01 L398.05 233.04 L399.91 233.07 L401.77 233.10 L403.63 233.13 L405.49 233.16 L407.35 233.19 L409.21 233.22 L411.07 233.25 L412.93 233.27 L414.79 233.30 L416.65 233.32 L418.51 233.35 L420.37 233.37 L422.24 233.39 L424.10 233.42 L425.96 233.44 L427.82 233.46 L429.68 233.48 L431.54 233.50 L433.40 233.52 L435.26 233.54 L437.12 233.55 L438.98 233.57 L440.84 233.59 L442.71 233.60 L444.57 233.62 L446.43 233.63 L448.29 233.65 L450.15 233.66 L452.01 233.68 L453.87 233.69 L455.73 233.70 L457.59 233.71 L459.45 233.73 L461.31 233.74 L463.17 233.75 L465.04 233.76 L466.90 233.77 L468.76 233.78 L470.62 233.79 L472.48 233.80 L474.34 233.81 L476.20 233.82" stroke="#1a1aff"/>
<path d="M29.60 156.44 L31.46 156.79 L33.32 157.13 L35.18 157.47 L37.04 157.81 L38.90 158.14 L40.77 158.47 L42.63 158.80 L44.49 159.13 L46.35 159.45 L48.21 159.77 L50.07 160.10 L51.93 160.42 L53.79 160.74 L55.65 161.06 L57.51 161.38 L59.37 161.70 L61.23 162.02 L63.09 162.34 L64.96 162.67 L66.82 163.00 L68.68 163.33 L70.54 163.66 L72.40 163.99 L74.26 164.33 L76.12 164.67 L77.98 165.02 L79.84 165.37 L81.70 165.73 L83.56 166.09 L85.42 166.45 L87.29 166.82 L89.15 167.20 L91.01 167.59 L92.87 167.98 L94.73 168.37 L96.59 168.78 L98.45 169.19 L100.31 169.62 L102.17 170.05 L104.03 170.48 L105.89 170.93 L107.75 171.39 L109.62 171.86 L111.48 172.33 L113.34 172.82 L115.20 173.31 L117.06 173.81 L118.92 174.33 L120.78 174.85 L122.64 175.38 L124.50 175.93 L126.36 176.48 L128.22 177.04 L130.09 177.61 L131.95 178.19 L133.81 178.78 L135.67 179.38 L137.53 180.00 L139.39 180.62 L141.25 181.25 L143.11 181.89 L144.97 182.54 L146.83 183.20 L148.69 183.87 L150.55 184.55 L152.41 185.23 L154.28 185.93 L156.14 186.63 L158.00 187.33 L159.86 188.05 L161.72 188.77 L163.58 189.49 L165.44 190.22 L167.30 190.96 L169.16 191.70 L171.02 192.44 L172.88 193.19 L174.75 193.94 L176.61 194.69 L178.47 195.44 L180.33 196.20 L182.19 196.96 L184.05 197.72 L185.91 198.47 L187.77 199.23 L189.63 199.98 L191.49 200.73 L193.35 201.48 L195.21 202.22 L197.07 202.95 L198.94 203.68 L200.80 204.40 L202.66 205.11 L204.52 205.82 L206.38 206.51 L208.24 207.19 L210.10 207.86 L211.96 208.52 L213.82 209.17 L215.68 209.80 L217.54 210.41 L219.40 211.01 L221.27 211.60 L223.13 212.17 L224.99 212.73 L226.85 213.27 L228.71 213.81 L230.57 214.33 L232.43 214.84 L234.29 215.33 L236.15 215.82 L238.01 216.30 L239.87 216.76 L241.73 217.22 L243.60 217.67 L245.46 218.11 L247.32 218.54 L249.18 218.96 L251.04 219.37 L252.90 219.78 L254.76 220.18 L256.62 220.57 L258.48 220.96 L260.34 221.34 L262.20 221.71 L264.06 222.08 L265.93 222.44 L267.79 222.79 L269.65 223.13 L271.51 223.46 L273.37 223.79 L275.23 224.11 L277.09 224.42 L278.95 224.72 L280.81 225.01 L282.67 225.29 L284.53 225.57 L286.40 225.83 L288.26 226.09 L290.12 226.33 L291.98 226.57 L293.84 226.79 L295.70 227.01 L297.56 227.22 L299.42 227.42 L301.28 227.61 L303.14 227.80 L305.00 227.97 L306.86 228.14 L308.72 228.31 L310.59 228.46 L312.45 228.61 L314.31 228.75 L316.17 228.89 L318.03 229.02 L319.89 229.15 L321.75 229.27 L323.61 229.39 L325.47 229.50 L327.33 229.61 L329.19 229.71 L331.06 229.81 L332.92 229.91 L334.78 230.01 L336.64 230.10 L338.50 230.19 L340.36 230.27 L342.22 230.35 L344.08 230.43 L345.94 230.51 L347.80 230.58 L349.66 230.66 L351.52 230.73 L353.39 230.80 L355.25 230.86 L357.11 230.93 L358.97 230.99 L360.83 231.05 L362.69 231.11 L364.55 231.17 L366.41 231.23 L368.27 231.28 L370.13 231.34 L371.99 231.39 L373.85 231.44 L375.72 231.50 L377.58 231.55 L379.44 231.60 L381.30 231.64 L383.16 231.69 L385.02 231.74 L386.88 231.78 L388.74 231.83 L390.60 231.87 L392.46 231.91 L394.32 231.95 L396.18 231.99 L398.05 232.03 L399.91 232.07 L401.77 232.10 L403.63 232.14 L405.49 232.17 L407.35 232.21 L409.21 232.24 L411.07 232.27 L412.93 232.30 L414.79 232.33 L416.65 232.36 L418.51 232.39 L420.37 232.41 L422.24 232.44 L424.10 232.46 L425.96 232.49 L427.82 232.51 L429.68 232.53 L431.54 232.56 L433.40 232.58 L435.26 232.60 L437.12 232.62 L438.98 232.63 L440.84 232.65 L442.71 232.67 L444.57 232.69 L446.43 232.70 L448.29 232.72 L450.15 232.73 L452.01 232.75 L453.87 232.76 L455.73 232.77 L457.59 232.79 L459.45 232.80 L461.31 232.81 L463.17 232.82 L465.04 232.83 L466.90 232.84 L468.76 232.85 L470.62 232.86 L472.48 232.87 L474.34 232.88 L476.20 232.88" stroke="#1a1aff" stroke-dasharray="4.6 3.1"/>
<path d="M29.60 176.72 L32.02 180.61 L33.88 180.97 L35.74 181.32 L37.59 181.67 L39.45 182.02 L41.31 182.37 L43.17 182.72 L45.03 183.07 L46.89 183.41 L48.75 183.76 L50.60 184.10 L52.46 184.45 L54.32 184.79 L56.18 185.13 L58.04 185.46 L59.90 185.80 L61.76 186.13 L63.61 186.46 L65.47 186.79 L67.33 187.11 L69.19 187.43 L71.05 187.75 L72.91 188.06 L74.76 188.37 L76.62 188.68 L78.48 188.98 L80.34 189.28 L82.20 189.57 L84.06 189.86 L85.92 190.14 L87.77 190.42 L89.63 190.70 L91.49 190.97 L93.35 191.23 L95.21 191.49 L97.07 191.74 L98.92 191.99 L100.78 192.23 L102.64 192.46 L104.50 192.69 L106.36 192.92 L108.22 193.13 L110.08 193.34 L111.93 193.55 L113.79 193.75 L115.65 193.94 L117.51 194.14 L119.37 194.32 L121.23 194.51 L123.09 194.69 L124.94 194.87 L126.80 195.05 L128.66 195.22 L130.52 195.39 L132.38 195.57 L134.24 195.74 L136.09 195.91 L137.95 196.08 L139.81 196.25 L141.67 196.42 L143.53 196.59 L145.39 196.76 L147.25 196.93 L149.10 197.11 L150.96 197.28 L152.82 197.45 L154.68 197.62 L156.54 197.78 L158.40 197.95 L160.26 198.11 L162.11 198.27 L163.97 198.43 L165.83 198.58 L167.69 198.73 L169.55 198.88 L171.41 199.02 L173.26 199.15 L175.12 199.28 L176.98 199.40 L178.84 199.52 L180.70 199.64 L182.56 199.74 L184.42 199.84 L186.27 199.94 L188.13 200.03 L189.99 200.12 L191.85 200.20 L193.71 200.28 L195.57 200.35 L197.43 200.42 L199.28 200.49 L201.14 200.56 L203.00 200.63 L204.86 200.69 L206.72 200.76 L208.58 200.82 L210.43 200.88 L212.29 200.94 L214.15 201.01 L216.01 201.07 L217.87 201.14 L219.73 201.20 L221.59 201.27 L223.44 201.34 L225.30 201.40 L227.16 201.47 L229.02 201.54 L230.88 201.60 L232.74 201.67 L234.60 201.74 L236.45 201.80 L238.31 201.87 L240.17 201.93 L242.03 201.99 L243.89 202.05 L245.75 202.11 L247.60 202.16 L249.46 202.22 L251.32 202.27 L253.18 202.32 L255.04 202.36 L256.90 202.40 L258.76 202.44 L260.61 202.48 L262.47 202.52 L264.33 202.55 L266.19 202.59 L268.05 202.62 L269.91 202.65 L271.77 202.68 L273.62 202.70 L275.48 202.73 L277.34 202.76 L279.20 202.78 L281.06 202.81 L282.92 202.83 L284.77 202.86 L286.63 202.88 L288.49 202.91 L290.35 202.94 L292.21 202.96 L294.07 202.99 L295.93 203.02 L297.78 203.05 L299.64 203.08 L301.50 203.11 L303.36 203.14 L305.22 203.17 L307.08 203.20 L308.94 203.23 L310.79 203.27 L312.65 203.30 L314.51 203.33 L316.37 203.36 L318.23 203.40 L320.09 203.43 L321.94 203.46 L323.80 203.49 L325.66 203.53 L327.52 203.56 L329.38 203.59 L331.24 203.62 L333.10 203.66 L334.95 203.69 L336.81 203.72 L338.67 203.75 L340.53 203.78 L342.39 203.81 L344.25 203.84 L346.11 203.87 L347.96 203.91 L349.82 203.94 L351.68 203.97 L353.54 204.00 L355.40 204.03 L357.26 204.06 L359.11 204.09 L360.97 204.12 L362.83 204.15 L364.69 204.18 L366.55 204.21 L368.41 204.24 L370.27 204.27 L372.12 204.31 L373.98 204.34 L375.84 204.37 L377.70 204.40 L379.56 204.43 L381.42 204.46 L383.28 204.49 L385.13 204.52 L386.99 204.55 L388.85 204.58 L390.71 204.62 L392.57 204.65 L394.43 204.68 L396.28 204.71 L398.14 204.74 L400.00 204.77 L401.86 204.81 L403.72 204.84 L405.58 204.87 L407.44 204.90 L409.29 204.93 L411.15 204.97 L413.01 205.00 L414.87 205.03 L416.73 205.06 L418.59 205.09 L420.45 205.12 L422.30 205.16 L424.16 205.19 L426.02 205.22 L427.88 205.25 L429.74 205.28 L431.60 205.31 L433.45 205.34 L435.31 205.37 L437.17 205.40 L439.03 205.43 L440.89 205.46 L442.75 205.49 L444.61 205.51 L446.46 205.54 L448.32 205.57 L450.18 205.59 L452.04 205.62 L453.90 205.65 L455.76 205.67 L457.62 205.69 L459.47 205.72 L461.33 205.74 L463.19 205.76 L465.05 205.78 L466.91 205.80 L468.77 205.82 L470.62 205.84 L472.48 205.86 L474.34 205.88 L476.20 205.90" stroke="#ff8c2a"/>
<path d="M29.60 172.36 L31.46 172.72 L33.32 173.07 L35.18 173.42 L37.04 173.77 L38.90 174.10 L40.77 174.44 L42.63 174.77 L44.49 175.09 L46.35 175.41 L48.21 175.72 L50.07 176.03 L51.93 176.33 L53.79 176.63 L55.65 176.92 L57.51 177.21 L59.37 177.50 L61.23 177.78 L63.09 178.05 L64.96 178.33 L66.82 178.60 L68.68 178.86 L70.54 179.12 L72.40 179.38 L74.26 179.63 L76.12 179.88 L77.98 180.13 L79.84 180.37 L81.70 180.61 L83.56 180.85 L85.42 181.08 L87.29 181.31 L89.15 181.54 L91.01 181.77 L92.87 181.99 L94.73 182.21 L96.59 182.43 L98.45 182.64 L100.31 182.86 L102.17 183.07 L104.03 183.28 L105.89 183.48 L107.75 183.69 L109.62 183.89 L111.48 184.09 L113.34 184.29 L115.20 184.49 L117.06 184.68 L118.92 184.87 L120.78 185.07 L122.64 185.25 L124.50 185.44 L126.36 185.62 L128.22 185.81 L130.09 185.99 L131.95 186.16 L133.81 186.34 L135.67 186.51 L137.53 186.68 L139.39 186.85 L141.25 187.02 L143.11 187.18 L144.97 187.35 L146.83 187.51 L148.69 187.66 L150.55 187.82 L152.41 187.97 L154.28 188.12 L156.14 188.27 L158.00 188.41 L159.86 188.56 L161.72 188.70 L163.58 188.83 L165.44 188.97 L167.30 189.10 L169.16 189.23 L171.02 189.35 L172.88 189.48 L174.75 189.60 L176.61 189.71 L178.47 189.83 L180.33 189.94 L182.19 190.05 L184.05 190.15 L185.91 190.26 L187.77 190.36 L189.63 190.46 L191.49 190.55 L193.35 190.65 L195.21 190.74 L197.07 190.83 L198.94 190.92 L200.80 191.01 L202.66 191.10 L204.52 191.19 L206.38 191.27 L208.24 191.36 L210.10 191.45 L211.96 191.53 L213.82 191.62 L215.68 191.70 L217.54 191.78 L219.40 191.87 L221.27 191.95 L223.13 192.04 L224.99 192.12 L226.85 192.21 L228.71 192.29 L230.57 192.37 L232.43 192.45 L234.29 192.54 L236.15 192.61 L238.01 192.69 L239.87 192.77 L241.73 192.85 L243.60 192.92 L245.46 192.99 L247.32 193.06 L249.18 193.13 L251.04 193.20 L252.90 193.26 L254.76 193.32 L256.62 193.38 L258.48 193.44 L260.34 193.49 L262.20 193.55 L264.06 193.60 L265.93 193.65 L267.79 193.70 L269.65 193.74 L271.51 193.79 L273.37 193.83 L275.23 193.87 L277.09 193.92 L278.95 193.96 L280.81 194.00 L282.67 194.04 L284.53 194.08 L286.40 194.12 L288.26 194.16 L290.12 194.20 L291.98 194.23 L293.84 194.27 L295.70 194.31 L297.56 194.35 L299.42 194.39 L301.28 194.43 L303.14 194.47 L305.00 194.51 L306.86 194.55 L308.72 194.59 L310.59 194.62 L312.45 194.66 L314.31 194.70 L316.17 194.74 L318.03 194.78 L319.89 194.82 L321.75 194.86 L323.61 194.90 L325.47 194.94 L327.33 194.98 L329.19 195.02 L331.06 195.05 L332.92 195.09 L334.78 195.13 L336.64 195.17 L338.50 195.21 L340.36 195.25 L342.22 195.29 L344.08 195.33 L345.94 195.37 L347.80 195.41 L349.66 195.44 L351.52 195.48 L353.39 195.52 L355.25 195.56 L357.11 195.60 L358.97 195.64 L360.83 195.68 L362.69 195.72 L364.55 195.76 L366.41 195.79 L368.27 195.83 L370.13 195.87 L371.99 195.91 L373.85 195.95 L375.72 195.99 L377.58 196.03 L379.44 196.07 L381.30 196.11 L383.16 196.14 L385.02 196.18 L386.88 196.22 L388.74 196.26 L390.60 196.30 L392.46 196.34 L394.32 196.38 L396.18 196.42 L398.05 196.46 L399.91 196.50 L401.77 196.54 L403.63 196.58 L405.49 196.62 L407.35 196.66 L409.21 196.69 L411.07 196.73 L412.93 196.77 L414.79 196.81 L416.65 196.85 L418.51 196.89 L420.37 196.93 L422.24 196.97 L424.10 197.01 L425.96 197.05 L427.82 197.09 L429.68 197.13 L431.54 197.17 L433.40 197.20 L435.26 197.24 L437.12 197.28 L438.98 197.32 L440.84 197.35 L442.71 197.39 L444.57 197.42 L446.43 197.46 L448.29 197.49 L450.15 197.53 L452.01 197.56 L453.87 197.60 L455.73 197.63 L457.59 197.66 L459.45 197.69 L461.31 197.72 L463.17 197.75 L465.04 197.78 L466.90 197.81 L468.76 197.84 L470.62 197.86 L472.48 197.89 L474.34 197.92 L476.20 197.94" stroke="#ff8c2a" stroke-dasharray="4.6 3.1"/>
<path d="M29.60 190.14 L32.02 194.42 L33.88 194.82 L35.74 195.22 L37.59 195.60 L39.45 195.98 L41.31 196.35 L43.17 196.72 L45.03 197.07 L46.89 197.42 L48.75 197.76 L50.60 198.10 L52.46 198.43 L54.32 198.75 L56.18 199.06 L58.04 199.37 L59.90 199.67 L61.76 199.97 L63.61 200.26 L65.47 200.55 L67.33 200.82 L69.19 201.10 L71.05 201.37 L72.91 201.63 L74.76 201.89 L76.62 202.14 L78.48 202.39 L80.34 202.64 L82.20 202.88 L84.06 203.11 L85.92 203.34 L87.77 203.57 L89.63 203.80 L91.49 204.02 L93.35 204.24 L95.21 204.45 L97.07 204.66 L98.92 204.87 L100.78 205.07 L102.64 205.28 L104.50 205.48 L106.36 205.68 L108.22 205.87 L110.08 206.06 L111.93 206.26 L113.79 206.44 L115.65 206.63 L117.51 206.81 L119.37 206.99 L121.23 207.17 L123.09 207.34 L124.94 207.51 L126.80 207.68 L128.66 207.84 L130.52 208.00 L132.38 208.16 L134.24 208.31 L136.09 208.46 L137.95 208.61 L139.81 208.75 L141.67 208.89 L143.53 209.03 L145.39 209.16 L147.25 209.29 L149.10 209.41 L150.96 209.53 L152.82 209.65 L154.68 209.77 L156.54 209.88 L158.40 209.99 L160.26 210.10 L162.11 210.20 L163.97 210.30 L165.83 210.40 L167.69 210.50 L169.55 210.60 L171.41 210.70 L173.26 210.79 L175.12 210.88 L176.98 210.97 L178.84 211.06 L180.70 211.15 L182.56 211.24 L184.42 211.33 L186.27 211.41 L188.13 211.50 L189.99 211.58 L191.85 211.66 L193.71 211.74 L195.57 211.82 L197.43 211.90 L199.28 211.98 L201.14 212.05 L203.00 212.13 L204.86 212.20 L206.72 212.28 L208.58 212.35 L210.43 212.42 L212.29 212.48 L214.15 212.55 L216.01 212.62 L217.87 212.68 L219.73 212.74 L221.59 212.80 L223.44 212.86 L225.30 212.92 L227.16 212.97 L229.02 213.03 L230.88 213.08 L232.74 213.13 L234.60 213.18 L236.45 213.22 L238.31 213.27 L240.17 213.31 L242.03 213.35 L243.89 213.39 L245.75 213.42 L247.60 213.46 L249.46 213.49 L251.32 213.52 L253.18 213.54 L255.04 213.57 L256.90 213.59 L258.76 213.61 L260.61 213.63 L262.47 213.64 L264.33 213.66 L266.19 213.67 L268.05 213.69 L269.91 213.70 L271.77 213.71 L273.62 213.72 L275.48 213.74 L277.34 213.75 L279.20 213.76 L281.06 213.77 L282.92 213.79 L284.77 213.80 L286.63 213.82 L288.49 213.84 L290.35 213.85 L292.21 213.88 L294.07 213.90 L295.93 213.92 L297.78 213.95 L299.64 213.98 L301.50 214.00 L303.36 214.03 L305.22 214.06 L307.08 214.10 L308.94 214.13 L310.79 214.16 L312.65 214.20 L314.51 214.23 L316.37 214.27 L318.23 214.30 L320.09 214.34 L321.94 214.37 L323.80 214.41 L325.66 214.44 L327.52 214.48 L329.38 214.51 L331.24 214.55 L333.10 214.58 L334.95 214.62 L336.81 214.65 L338.67 214.68 L340.53 214.72 L342.39 214.75 L344.25 214.78 L346.11 214.81 L347.96 214.84 L349.82 214.87 L351.68 214.90 L353.54 214.93 L355.40 214.96 L357.26 214.99 L359.11 215.02 L360.97 215.05 L362.83 215.08 L364.69 215.10 L366.55 215.13 L368.41 215.15 L370.27 215.18 L372.12 215.20 L373.98 215.23 L375.84 215.25 L377.70 215.28 L379.56 215.30 L381.42 215.32 L383.28 215.35 L385.13 215.37 L386.99 215.39 L388.85 215.41 L390.71 215.44 L392.57 215.46 L394.43 215.48 L396.28 215.50 L398.14 215.52 L400.00 215.55 L401.86 215.57 L403.72 215.59 L405.58 215.61 L407.44 215.64 L409.29 215.66 L411.15 215.68 L413.01 215.71 L414.87 215.73 L416.73 215.75 L418.59 215.78 L420.45 215.80 L422.30 215.82 L424.16 215.85 L426.02 215.87 L427.88 215.89 L429.74 215.92 L431.60 215.94 L433.45 215.97 L435.31 215.99 L437.17 216.01 L439.03 216.04 L440.89 216.06 L442.75 216.08 L444.61 216.11 L446.46 216.13 L448.32 216.16 L450.18 216.18 L452.04 216.20 L453.90 216.23 L455.76 216.25 L457.62 216.27 L459.47 216.30 L461.33 216.32 L463.19 216.34 L465.05 216.37 L466.91 216.39 L468.77 216.41 L470.62 216.44 L472.48 216.46 L474.34 216.48 L476.20 216.50" stroke="#9430ff"/>
<path d="M29.60 188.27 L31.46 188.62 L33.32 188.96 L35.18 189.29 L37.04 189.62 L38.90 189.95 L40.77 190.27 L42.63 190.58 L44.49 190.89 L46.35 191.19 L48.21 191.49 L50.07 191.78 L51.93 192.06 L53.79 192.35 L55.65 192.62 L57.51 192.90 L59.37 193.17 L61.23 193.43 L63.09 193.69 L64.96 193.94 L66.82 194.20 L68.68 194.44 L70.54 194.69 L72.40 194.93 L74.26 195.16 L76.12 195.40 L77.98 195.63 L79.84 195.85 L81.70 196.08 L83.56 196.30 L85.42 196.52 L87.29 196.73 L89.15 196.94 L91.01 197.15 L92.87 197.36 L94.73 197.57 L96.59 197.77 L98.45 197.97 L100.31 198.17 L102.17 198.37 L104.03 198.56 L105.89 198.76 L107.75 198.95 L109.62 199.14 L111.48 199.33 L113.34 199.52 L115.20 199.70 L117.06 199.89 L118.92 200.07 L120.78 200.24 L122.64 200.42 L124.50 200.59 L126.36 200.76 L128.22 200.93 L130.09 201.09 L131.95 201.25 L133.81 201.41 L135.67 201.56 L137.53 201.71 L139.39 201.85 L141.25 202.00 L143.11 202.13 L144.97 202.27 L146.83 202.40 L148.69 202.53 L150.55 202.65 L152.41 202.77 L154.28 202.89 L156.14 203.00 L158.00 203.11 L159.86 203.22 L161.72 203.33 L163.58 203.43 L165.44 203.53 L167.30 203.63 L169.16 203.72 L171.02 203.82 L172.88 203.91 L174.75 204.00 L176.61 204.09 L178.47 204.18 L180.33 204.27 L182.19 204.35 L184.05 204.44 L185.91 204.52 L187.77 204.60 L189.63 204.68 L191.49 204.76 L193.35 204.84 L195.21 204.92 L197.07 205.00 L198.94 205.08 L200.80 205.15 L202.66 205.23 L204.52 205.30 L206.38 205.38 L208.24 205.45 L210.10 205.52 L211.96 205.60 L213.82 205.67 L215.68 205.74 L217.54 205.81 L219.40 205.88 L221.27 205.95 L223.13 206.03 L224.99 206.10 L226.85 206.16 L228.71 206.23 L230.57 206.30 L232.43 206.37 L234.29 206.43 L236.15 206.49 L238.01 206.56 L239.87 206.62 L241.73 206.68 L243.60 206.73 L245.46 206.79 L247.32 206.84 L249.18 206.89 L251.04 206.94 L252.90 206.99 L254.76 207.03 L256.62 207.07 L258.48 207.11 L260.34 207.15 L262.20 207.19 L264.06 207.22 L265.93 207.26 L267.79 207.29 L269.65 207.32 L271.51 207.35 L273.37 207.38 L275.23 207.40 L277.09 207.43 L278.95 207.46 L280.81 207.48 L282.67 207.51 L284.53 207.53 L286.40 207.56 L288.26 207.59 L290.12 207.61 L291.98 207.64 L293.84 207.67 L295.70 207.69 L297.56 207.72 L299.42 207.75 L301.28 207.78 L303.14 207.81 L305.00 207.84 L306.86 207.87 L308.72 207.90 L310.59 207.94 L312.45 207.97 L314.31 208.00 L316.17 208.03 L318.03 208.07 L319.89 208.10 L321.75 208.13 L323.61 208.17 L325.47 208.20 L327.33 208.24 L329.19 208.27 L331.06 208.31 L332.92 208.34 L334.78 208.38 L336.64 208.41 L338.50 208.45 L340.36 208.49 L342.22 208.53 L344.08 208.56 L345.94 208.60 L347.80 208.64 L349.66 208.68 L351.52 208.72 L353.39 208.76 L355.25 208.80 L357.11 208.84 L358.97 208.89 L360.83 208.93 L362.69 208.97 L364.55 209.02 L366.41 209.06 L368.27 209.11 L370.13 209.15 L371.99 209.20 L373.85 209.24 L375.72 209.29 L377.58 209.34 L379.44 209.39 L381.30 209.43 L383.16 209.48 L385.02 209.53 L386.88 209.58 L388.74 209.62 L390.60 209.67 L392.46 209.72 L394.32 209.77 L396.18 209.81 L398.05 209.86 L399.91 209.91 L401.77 209.95 L403.63 210.00 L405.49 210.04 L407.35 210.09 L409.21 210.13 L411.07 210.17 L412.93 210.21 L414.79 210.25 L416.65 210.30 L418.51 210.34 L420.37 210.38 L422.24 210.41 L424.10 210.45 L425.96 210.49 L427.82 210.53 L429.68 210.56 L431.54 210.60 L433.40 210.63 L435.26 210.67 L437.12 210.70 L438.98 210.73 L440.84 210.76 L442.71 210.79 L444.57 210.82 L446.43 210.85 L448.29 210.88 L450.15 210.91 L452.01 210.94 L453.87 210.96 L455.73 210.99 L457.59 211.01 L459.45 211.03 L461.31 211.06 L463.17 211.08 L465.04 211.10 L466.90 211.12 L468.76 211.14 L470.62 211.15 L472.48 211.17 L474.34 211.19 L476.20 211.20" stroke="#9430ff" stroke-dasharray="4.6 3.1"/>
</g>
<g stroke="#1c1c1c" stroke-width="0.95" fill="none">
<rect x="29.60" y="12.30" width="446.60" height="312.00"/>
<path d="M66.82 324.30 v-2.15 M66.82 12.30 v2.15 M104.03 324.30 v-2.15 M104.03 12.30 v2.15 M141.25 324.30 v-2.15 M141.25 12.30 v2.15 M178.47 324.30 v-2.15 M178.47 12.30 v2.15 M215.68 324.30 v-2.15 M215.68 12.30 v2.15 M252.90 324.30 v-2.15 M252.90 12.30 v2.15 M290.12 324.30 v-2.15 M290.12 12.30 v2.15 M327.33 324.30 v-2.15 M327.33 12.30 v2.15 M364.55 324.30 v-2.15 M364.55 12.30 v2.15 M401.77 324.30 v-2.15 M401.77 12.30 v2.15 M438.98 324.30 v-2.15 M438.98 12.30 v2.15 M29.60 293.10 h2.15 M476.20 293.10 h-2.15 M29.60 261.90 h2.15 M476.20 261.90 h-2.15 M29.60 230.70 h2.15 M476.20 230.70 h-2.15 M29.60 199.50 h2.15 M476.20 199.50 h-2.15 M29.60 168.30 h2.15 M476.20 168.30 h-2.15 M29.60 137.10 h2.15 M476.20 137.10 h-2.15 M29.60 105.90 h2.15 M476.20 105.90 h-2.15 M29.60 74.70 h2.15 M476.20 74.70 h-2.15 M29.60 43.50 h2.15 M476.20 43.50 h-2.15"/>
</g>
</svg>
<div class="xt" style="left:29.60px">0</div>
<div class="xt" style="left:104.03px">2</div>
<div class="xt" style="left:178.47px">4</div>
<div class="xt" style="left:252.90px">6</div>
<div class="xt" style="left:327.33px">8</div>
<div class="xt" style="left:401.77px">10</div>
<div class="xt" style="left:476.20px">12</div>
<div class="yt" style="top:324.30px"><span>0</span></div>
<div class="yt" style="top:261.90px"><span>200</span></div>
<div class="yt" style="top:199.50px"><span>400</span></div>
<div class="yt" style="top:137.10px"><span>600</span></div>
<div class="yt" style="top:74.70px"><span>800</span></div>
<div class="yt" style="top:12.30px"><span>1000</span></div>
<div class="xl">Distance <i>x</i> (cm)</div>
<div class="yl"><span>Temperature (K)</span></div>
<div class="lb it" style="left:106.8px;top:97.5px;color:#ff1a1a">T</div>
<div class="lb" style="left:69.4px;top:106.7px;color:#10f0f0">2</div>
<div class="lb" style="left:39.2px;top:124.1px;color:#8e2323">4</div>
<div class="lb" style="left:40.1px;top:148.6px;color:#1a1aff">1</div>
<div class="lb" style="left:68.9px;top:208.2px;color:#9430ff">6</div>
<div class="lb" style="left:442.0px;top:199.3px;color:#ff8c2a">5</div>
<div class="lb" style="left:441.7px;top:292.8px;color:#ff14ff">3</div>
<div class="lb it" style="left:369.5px;top:161.5px;color:#14f028">T<span style="font-size:9.5px;position:relative;top:3.1px;left:-0.6px">r</span></div>
</body></html>
